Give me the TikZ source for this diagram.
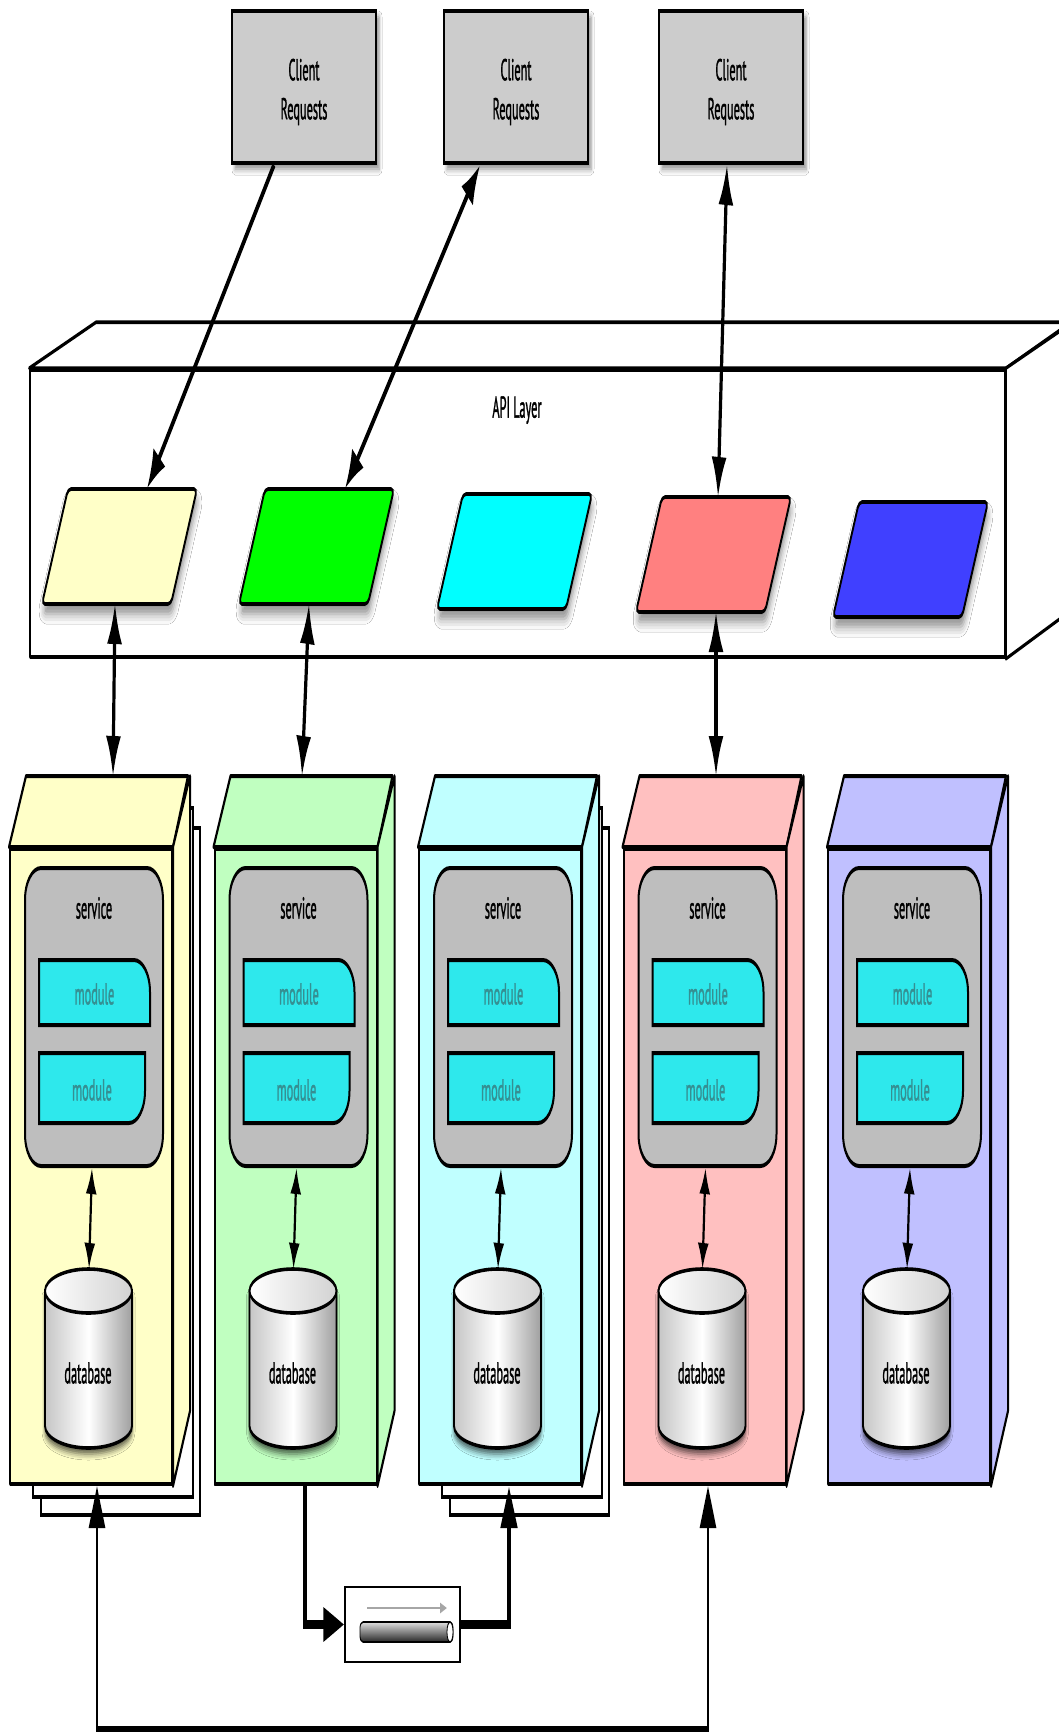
\documentclass[tikz,border=0pt]{standalone}
\usepackage{fontspec}
\setmainfont{PT Sans}[FakeStretch=0.82, FakeBold=1.6]
\usetikzlibrary{arrows.meta,calc,shadows.blur}
\definecolor{clientgray}{HTML}{CCCCCC}
\definecolor{svcgray}{HTML}{BEBEBE}
\definecolor{modcyan}{HTML}{2EE8EC}
\definecolor{modtext}{HTML}{358F92}
\definecolor{pY}{HTML}{FFFFC8}
\definecolor{pG}{HTML}{00FF00}
\definecolor{pC}{HTML}{00FFFF}
\definecolor{pR}{HTML}{FF8080}
\definecolor{pB}{HTML}{4040FF}
\definecolor{sY}{HTML}{FFFFC8}
\definecolor{sG}{HTML}{C0FFC0}
\definecolor{sC}{HTML}{C0FFFF}
\definecolor{sR}{HTML}{FFC0C0}
\definecolor{sB}{HTML}{C0C0FF}
\tikzset{
  apitip/.tip={Latex[length=20pt,width=15pt,fill=black]},
  intip/.tip={Latex[length=13pt,width=11pt,fill=black]},
  bigtip/.tip={Triangle[length=21pt,width=16pt,fill=black]},
  edge/.style={draw=black, line width=1.8pt, line join=round},
  clientbox/.style={draw, line width=2pt, fill=clientgray, minimum width=144pt, minimum height=76pt,
    inner sep=0pt,
    blur shadow={shadow xshift=3pt, shadow yshift=-3pt, shadow blur radius=3pt, shadow opacity=45}},
  clientlbl/.style={align=center, inner sep=0pt, font=\fontsize{15}{19.5}\selectfont},
  paraface/.style={draw, line width=1.8pt, rounded corners=3pt,
    blur shadow={shadow xshift=1pt, shadow yshift=-5pt, shadow blur radius=5pt, shadow opacity=45}},
  anchorbox/.style={inner sep=0pt, outer sep=0pt},
  svcface/.style={draw, line width=2pt, line join=round},
  svcbox/.style={draw, line width=2pt, fill=svcgray, rounded corners=16pt, minimum width=138pt,
    minimum height=149pt, inner sep=0pt},
  lbl/.style={font=\fontsize{15}{17}\selectfont, inner sep=0pt},
  modface/.style={draw, line width=2pt, fill=modcyan},
  modlbl/.style={lbl, text=modtext},
  dbbody/.style={draw, line width=1.8pt, left color=gray!45, right color=gray!75, middle color=white,
    blur shadow={shadow xshift=0pt, shadow yshift=-3pt, shadow blur radius=3pt, shadow opacity=65}},
  dbtop/.style={draw, line width=1.8pt, left color=white, right color=gray!35},
  copyline/.style={draw, line width=1.6pt, fill=white},
  apiline/.style={line width=3.2pt},
  inline/.style={line width=2.2pt},
  qline/.style={line width=4.5pt, line join=miter},
  botline/.style={line width=2.6pt},
}
\newcommand\apipara[4]{%
  \path[paraface, fill=#3] (#1,#2) -- ++(129,0) -- ++(-26,115) -- ++(-129,0) -- cycle;
  \node[anchorbox, minimum width=156pt, minimum height=57.5pt] (#4) at ({#1+51},{#2+57.5}) {};
}
\newcommand\svcstack[1]{%
  \draw[copyline] ({#1+31},828) rectangle ({#1+190},1515);
  \draw[copyline] ({#1+23},808) rectangle ({#1+183},1497);
}
\newcommand\svc[3]{%
  \node[svcface, fill=#2, minimum width=162pt, minimum height=317.5pt, inner sep=0pt] (#3) at ({#1+81},1166.5) {};
  \draw[svcface, fill=#2] (#3.north west) -- ++(17,-71) -- ++(162,0) -- (#3.north east) -- cycle;
  \draw[svcface, fill=#2] (#3.north east) -- ++(17,-71) -- ++(0,635) -- (#3.south east) -- cycle;
  \node[svcbox] (#3s) at ({#1+84},1017) {};
  \node[lbl] (#3l) at ({#1+84},908) {service};
  \draw[modface] ({#1+29},960) -- ({#1+124},960) .. controls ({#1+132.8},960) and ({#1+140},974.3) .. ({#1+140},992) -- ({#1+140},1025) -- ({#1+29},1025) -- cycle;
  \node[modlbl] (#3ma) at ({#1+84.5},994) {module};
  \draw[modface] ({#1+29},1053) -- ({#1+135},1053) -- ({#1+135},1091) .. controls ({#1+135},1108.7) and ({#1+127.8},1123) .. ({#1+119},1123) -- ({#1+29},1123) -- cycle;
  \node[modlbl] (#3mb) at ({#1+82},1090) {module};
  \path[dbbody] ({#1+35},1291) -- ({#1+35},1426) .. controls ({#1+35},1438.1) and ({#1+54.5},1448) .. ({#1+78.5},1448) .. controls ({#1+102.5},1448) and ({#1+122},1438.1) .. ({#1+122},1426) -- ({#1+122},1291) -- cycle;
  \draw[dbtop] ({#1+78.5},1291) ellipse [x radius=43.5pt, y radius=11pt];
  \node[anchorbox, minimum width=87pt, minimum height=89.5pt] (#3d) at ({#1+78.5},1358.5) {};
  \node[lbl] (#3dl) at ({#1+78},1373) {database};
  \draw[inline, intip-intip] ([xshift=-2pt]#3s.south) -- ([xshift=0.5pt]#3d.north);
}
\begin{document}
\begin{tikzpicture}
\path[use as bounding box, fill=white] (0pt,0pt) rectangle (1058pt,-1732pt);
\begin{scope}[x=1pt, y=-0.5pt, transform canvas={yscale=2}]
  % API layer box
  \node[edge, fill=white, minimum width=975pt, minimum height=143.5pt, inner sep=0pt] (api) at (517.5,513.5) {};
  \draw[edge, fill=white] (api.north west) -- ++(67,-46) -- ++(975,0) -- (api.north east) -- cycle;
  \draw[edge, fill=white] (api.north east) -- ++(67,-46) -- ++(0,287) -- (api.south east) -- cycle;
  \node[lbl] (apil) at (517,410) {API Layer};
  % API endpoints
  \apipara{68}{489}{pY}{p1}
  \apipara{265}{489}{pG}{p2}
  \apipara{463}{494}{pC}{p3}
  \apipara{662}{497}{pR}{p4}
  \apipara{859}{502}{pB}{p5}
  % clients
  \node[clientbox] (c1) at (304,87) {};
  \node[clientbox] (c2) at (516,87) {};
  \node[clientbox] (c3) at (731,87) {};
  \node[clientlbl] (c1t) at (304,92) {Client\\Requests};
  \node[clientlbl] (c2t) at (516,92) {Client\\Requests};
  \node[clientlbl] (c3t) at (731,92) {Client\\Requests};
  % services
  \svcstack{10}
  \svc{10}{sY}{s1}
  \svc{214.5}{sG}{s2}
  \svcstack{419}
  \svc{419}{sC}{s3}
  \svc{623.5}{sR}{s4}
  \svc{828}{sB}{s5}
  % queue
  \node[draw, line width=1.2pt, fill=white, minimum width=115pt, minimum height=37.5pt, inner sep=0pt] (q) at (402.5,1624.5) {};
  \draw[gray!70, line width=1.4pt, -{Triangle[length=7pt,width=5pt]}] (367,1608) -- (447,1608);
  \path[draw=black, line width=0.8pt, top color=gray!25, bottom color=black!85, rounded corners=3pt] (360,1622) rectangle (453,1642);
  \draw[fill=white, line width=0.8pt] (450,1632) ellipse [x radius=3pt, y radius=5pt];
  \coordinate (bot) at (400,1729);
  % connectors
  \draw[apiline, -apitip] ([xshift=-30pt]c1.south) -- ([xshift=28pt]p1.north);
  \draw[apiline, apitip-apitip] ([xshift=-36pt]c2.south) -- ([xshift=29pt]p2.north);
  \draw[apiline, apitip-apitip] ([xshift=-4pt]c3.south) -- ([xshift=5pt]p4.north);
  \draw[apiline, apitip-apitip] ([xshift=-4pt]p1.south) -- ($(s1.north)+(22,-71)$);
  \draw[apiline, apitip-apitip] ([xshift=-7pt]p2.south) -- ($(s2.north)+(6.5,-71)$);
  \draw[apiline, apitip-apitip] ([xshift=3pt]p4.south) -- ($(s4.north)+(11.5,-71)$);
  \draw[qline, -bigtip] ([xshift=9.5pt]s2.south) |- (q.west);
  \draw[qline, -bigtip] (q.east) -| ([xshift=9pt]s3.south);
  \draw[botline, bigtip-bigtip] ([xshift=6pt]s1.south) |- (bot) -| ([xshift=3.5pt]s4.south);
\end{scope}
\end{tikzpicture}
\end{document}
